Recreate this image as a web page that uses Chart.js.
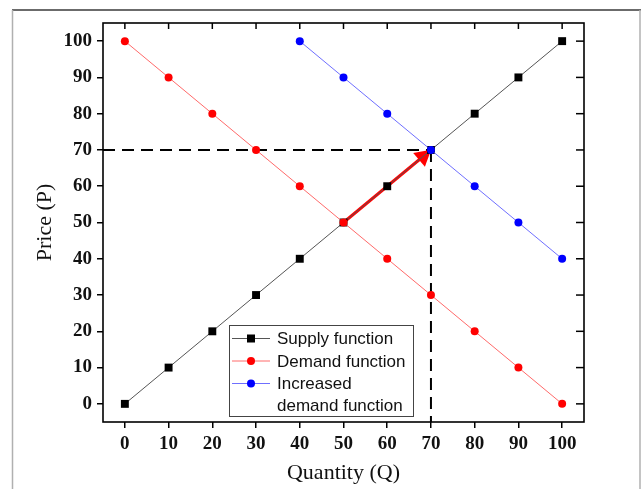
<!DOCTYPE html>
<html><head><meta charset="utf-8">
<script src="https://cdn.jsdelivr.net/npm/chart.js@4"></script>
<style>html,body{margin:0;padding:0;background:#fff}#wrap{width:643px;height:489px;position:relative}</style>
</head><body><div id="wrap"><canvas id="c" width="643" height="489"></canvas></div>
<script>
const quantities = [0,10,20,30,40,50,60,70,80,90,100];
const supplyPrices = [0,10,20,30,40,50,60,70,80,90,100];
const demandPrices = [100,90,80,70,60,50,40,30,20,10,0];
const incQuantities = [40,50,60,70,80,90,100];
const incDemandPrices = [100,90,80,70,60,50,40];
const arrowStart = [50,50];
const arrowEnd = [68.2,68.2];
const equilibrium = [70,70];
const xTickLabels = [0,10,20,30,40,50,60,70,80,90,100];
const yTickLabels = [0,10,20,30,40,50,60,70,80,90,100];
const seriesNames = ['Supply function','Demand function','Increased','demand function'];
const xTitle = 'Quantity (Q)';
const yTitle = 'Price (P)';
const axisMin = -5, axisMax = 105;

const pts = (xs, ys) => xs.map((x,i)=>({x, y: ys[i]}));

const framePlugin = {
  id:'frame',
  beforeDraw(chart){
    const ctx = chart.ctx;
    ctx.save();
    ctx.fillStyle='#fff'; ctx.fillRect(0,0,chart.width,chart.height);
    ctx.strokeStyle='#6b6b6b'; ctx.lineWidth=2;
    ctx.beginPath(); ctx.moveTo(12,10); ctx.lineTo(641,10); ctx.stroke();
    ctx.strokeStyle='#b0b0b0'; ctx.lineWidth=1.5;
    ctx.beginPath(); ctx.moveTo(12.5,10); ctx.lineTo(12.5,489); ctx.stroke();
    ctx.beginPath(); ctx.moveTo(640,10); ctx.lineTo(640,489); ctx.stroke();
    ctx.restore();
  },
  afterDraw(chart){
    const ctx = chart.ctx, a = chart.chartArea;
    const xs = chart.scales.x, ys = chart.scales.y;
    ctx.save();
    ctx.strokeStyle='#000'; ctx.lineWidth=1.6;
    ctx.strokeRect(a.left, a.top, a.right-a.left, a.bottom-a.top);
    ctx.lineWidth=1.5;
    xTickLabels.forEach(v=>{const px=xs.getPixelForValue(v);
      ctx.beginPath(); ctx.moveTo(px,a.top); ctx.lineTo(px,a.top+6); ctx.stroke();});
    yTickLabels.forEach(v=>{const py=ys.getPixelForValue(v);
      ctx.beginPath(); ctx.moveTo(a.right,py); ctx.lineTo(a.right-8,py); ctx.stroke();});
    ctx.fillStyle='#111';
    ctx.font='22px "Liberation Serif"';
    ctx.textAlign='center'; ctx.textBaseline='middle';
    ctx.fillText(xTitle, (a.left+a.right)/2, 473);
    ctx.save(); ctx.translate(45,(a.top+a.bottom)/2); ctx.rotate(-Math.PI/2);
    ctx.fillText(yTitle,0,0); ctx.restore();
    const L=229, T=325, R=413, B=416;
    ctx.fillStyle='#fff'; ctx.fillRect(L,T,R-L,B-T);
    ctx.strokeStyle='#444'; ctx.lineWidth=1;
    ctx.strokeRect(L+0.5,T+0.5,R-L,B-T);
    const rows=[338.5,361,383.5,405];
    const ds = chart.data.datasets;
    const legendSets = ['Supply function','Demand function','Increased demand function']
      .map(n=>ds.find(d=>d.label===n));
    ctx.font='17px "Liberation Sans"'; ctx.textAlign='left'; ctx.textBaseline='middle';
    legendSets.forEach((d,i)=>{
      const y=rows[i];
      ctx.strokeStyle=d.borderColor; ctx.lineWidth=1;
      ctx.beginPath(); ctx.moveTo(232,y); ctx.lineTo(270,y); ctx.stroke();
      ctx.fillStyle=d.pointBackgroundColor;
      if(d.pointStyle==='rect'){ctx.fillRect(247,y-4,8,8);}
      else{ctx.beginPath(); ctx.arc(251,y,4,0,Math.PI*2); ctx.fill();}
    });
    ctx.fillStyle='#111';
    seriesNames.forEach((t,i)=>ctx.fillText(t,277,rows[i]+1));
    ctx.restore();
  }
};

const tickOpts = (labels)=>({
  afterBuildTicks: s=>{ s.ticks = labels.map(v=>({value:v})); }
});

new Chart(document.getElementById('c'),{
  type:'scatter',
  data:{datasets:[
    {label:'Increased demand function', data:pts(incQuantities,incDemandPrices), showLine:true,
     borderColor:'#6f6fff', borderWidth:1, pointStyle:'circle', pointRadius:4,
     pointBackgroundColor:'#0000ff', pointBorderWidth:0, pointBorderColor:'#0000ff'},
    {label:'Demand function', data:pts(quantities,demandPrices), showLine:true,
     borderColor:'#ff6a6a', borderWidth:1, pointStyle:'circle', pointRadius:4,
     pointBackgroundColor:'#ff0000', pointBorderWidth:0, pointBorderColor:'#ff0000'},
    {label:'Supply function', data:pts(quantities,supplyPrices), showLine:true,
     borderColor:'#555', borderWidth:1, pointStyle:'rect', pointRadius:5.6,
     pointBackgroundColor:'#000', pointBorderWidth:0, pointBorderColor:'#000'},
    {label:'arrow', data:[{x:arrowStart[0],y:arrowStart[1]},{x:arrowEnd[0],y:arrowEnd[1]}], showLine:true,
     borderColor:'#ff0000', borderWidth:3, pointStyle:'triangle', pointRadius:[0,10.5], pointRotation:50,
     pointBackgroundColor:'#ff0000', pointBorderColor:'#ff0000', pointBorderWidth:0},
    {label:'h', data:[{x:axisMin,y:equilibrium[1]},{x:equilibrium[0],y:equilibrium[1]}], showLine:true,
     borderColor:'#000', borderWidth:2, borderDash:[12,7], pointRadius:0},
    {label:'v', data:[{x:equilibrium[0],y:equilibrium[1]},{x:equilibrium[0],y:axisMin}], showLine:true,
     borderColor:'#000', borderWidth:2, borderDash:[12,7], pointRadius:0}
  ]},
  options:{
    responsive:false, animation:false, devicePixelRatio:1,
    layout:{padding:{left:0,top:23,right:59,bottom:0}},
    plugins:{legend:{display:false}, tooltip:{enabled:false}},
    elements:{line:{tension:0}},
    scales:{
      x:{type:'linear', min:axisMin, max:axisMax, ...tickOpts(xTickLabels),
        afterFit:s=>{s.height=67;},
        grid:{drawOnChartArea:false, drawTicks:true, tickLength:6, color:'#000', lineWidth:1.5},
        border:{display:false},
        ticks:{padding:5, color:'#111', font:{family:'Liberation Serif', size:19, weight:'bold'}}},
      y:{type:'linear', min:axisMin, max:axisMax, ...tickOpts(yTickLabels),
        afterFit:s=>{s.width=103;},
        grid:{drawOnChartArea:false, drawTicks:true, tickLength:6, color:'#000', lineWidth:1.5},
        border:{display:false},
        ticks:{padding:5, color:'#111', font:{family:'Liberation Serif', size:19, weight:'bold'}}}
    }
  },
  plugins:[framePlugin]
});
</script></body></html>
